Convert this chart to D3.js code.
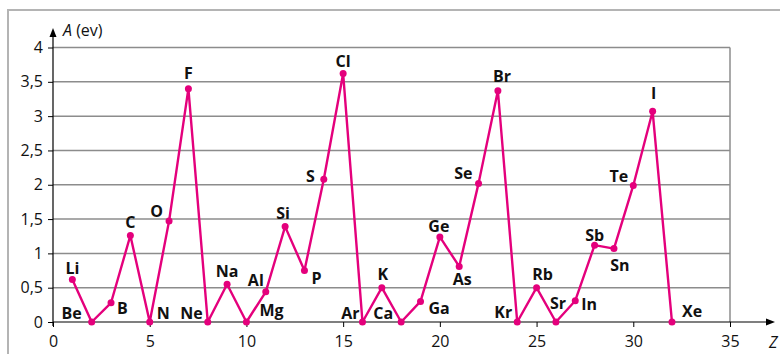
<!DOCTYPE html>
<html>
<head>
<meta charset="utf-8">
<script src="https://cdn.jsdelivr.net/npm/d3@7"></script>
<style>
  body { margin: 0; background: #fff; }
  svg { display: block; font-family: "Open Sans", sans-serif; }
</style>
</head>
<body>
<svg id="chart"></svg>
<script>
// electron affinity, elements in order along Z
const elements = ["Li", "Be", "B", "C", "N", "O", "F", "Ne", "Na", "Mg", "Al", "Si", "P", "S", "Cl", "Ar",
  "K", "Ca", "Ga", "Ge", "As", "Se", "Br", "Kr", "Rb", "Sr", "In", "Sb", "Sn", "Te", "I", "Xe"];
const zValues = d3.range(1, 33);
const affinity = [0.62, 0, 0.28, 1.26, 0, 1.47, 3.40, 0, 0.55, 0, 0.44, 1.39, 0.75, 2.08, 3.62, 0,
  0.50, 0, 0.30, 1.24, 0.81, 2.02, 3.37, 0, 0.50, 0, 0.31, 1.12, 1.07, 1.99, 3.07, 0];
const xTicks = [0, 5, 10, 15, 20, 25, 30, 35];
const yTicks = [0, 0.5, 1, 1.5, 2, 2.5, 3, 3.5, 4];

// label placement: [anchor, dx, dy] relative to the point
const labelPlace = [
  ["middle", 0, -5], ["end", -10, -3], ["start", 6, 11], ["middle", 0, -8], ["start", 7, -3],
  ["end", -6, -4], ["middle", 0, -10], ["end", -5, -3], ["middle", 0, -7], ["start", 13, -6],
  ["end", -2, -6], ["middle", -2, -8], ["start", 7, 13], ["end", -9, 3], ["middle", 0, -7],
  ["end", -3, -3], ["middle", 1, -8], ["end", -8, -3], ["start", 8, 13], ["middle", -1, -5],
  ["middle", 3, 19], ["end", -6, -4], ["middle", 4, -9], ["end", -5, -4], ["middle", 6, -8],
  ["middle", 2, -13], ["start", 6, 9], ["middle", 0, -4], ["middle", 6, 22], ["end", -5, -3],
  ["middle", 1, -12], ["start", 10, -5]
];

const W = 780, H = 354;
const margin = { top: 47.5, left: 53, right: 50, bottom: 32 };
const width = W - margin.left - margin.right;
const height = H - margin.top - margin.bottom;
const fs = 16;

const root = d3.select("#chart").attr("width", W).attr("height", H);

// outer frame (left and top only)
root.append("path")
  .attr("d", `M8,${H} L8,10 L${W},10`)
  .attr("fill", "none")
  .attr("stroke", "#b4b4b4")
  .attr("stroke-width", 2);

const svg = root.append("g")
  .attr("transform", `translate(${margin.left},${margin.top})`);

const x = d3.scaleLinear().domain([0, 35]).range([0, width]);
const y = d3.scaleLinear().domain([0, 4]).range([height, 0]);

// grid
svg.append("g")
  .selectAll("line")
  .data(yTicks.filter(d => d > 0))
  .join("line")
  .attr("x1", 0).attr("x2", x(35))
  .attr("y1", d => y(d)).attr("y2", d => y(d))
  .attr("stroke", "#8c8c8c").attr("stroke-width", 1.5);

svg.append("line")
  .attr("x1", x(35)).attr("x2", x(35))
  .attr("y1", y(0)).attr("y2", y(4))
  .attr("stroke", "#8c8c8c").attr("stroke-width", 1.5);

// axes
const xAxis = svg.append("g")
  .attr("transform", `translate(0,${height})`)
  .call(d3.axisBottom(x).tickValues(xTicks).tickSize(5).tickSizeOuter(0).tickFormat(d3.format("d")));
xAxis.select(".domain").remove();
xAxis.selectAll("text").attr("font-size", fs).attr("fill", "#111").attr("dy", "1.05em").attr("font-family", "Open Sans");

const yAxis = svg.append("g")
  .call(d3.axisLeft(y).tickValues(yTicks).tickSize(5).tickSizeOuter(0)
    .tickFormat(d => String(d).replace(".", ",")));
yAxis.select(".domain").remove();
yAxis.selectAll("text").attr("font-size", fs).attr("fill", "#111").attr("x", -10).attr("font-family", "Open Sans");

// axis lines with arrows
svg.append("line")
  .attr("x1", 0).attr("x2", W - margin.left - 8)
  .attr("y1", height).attr("y2", height)
  .attr("stroke", "#000").attr("stroke-width", 1.2);
svg.append("path")
  .attr("d", `M${W - margin.left - 5},${height} l-9,-3.5 l0,7 Z`)
  .attr("fill", "#000");

svg.append("line")
  .attr("x1", 0).attr("x2", 0)
  .attr("y1", height + 4).attr("y2", -margin.top + 34)
  .attr("stroke", "#000").attr("stroke-width", 1.2);
svg.append("path")
  .attr("d", `M0,${-margin.top + 28} l-3.5,9 l7,0 Z`)
  .attr("fill", "#000");

// axis titles
const yTitle = root.append("text")
  .attr("x", 63).attr("y", 36)
  .attr("font-size", fs).attr("fill", "#111");
yTitle.append("tspan").attr("font-style", "italic").text("A");
yTitle.append("tspan").text(" (ev)");

root.append("text")
  .attr("x", 769).attr("y", 348)
  .attr("font-size", fs).attr("font-style", "italic").attr("fill", "#111")
  .text("Z");

// series
const pts = zValues.map((z, i) => ({ z, v: affinity[i], name: elements[i], place: labelPlace[i] }));

svg.append("path")
  .datum(pts)
  .attr("fill", "none")
  .attr("stroke", "#e4007c")
  .attr("stroke-width", 2.4)
  .attr("stroke-linejoin", "round")
  .attr("d", d3.line().x(d => x(d.z)).y(d => y(d.v)));

svg.selectAll("circle.dot")
  .data(pts)
  .join("circle")
  .attr("class", "dot")
  .attr("cx", d => x(d.z))
  .attr("cy", d => y(d.v))
  .attr("r", 3.5)
  .attr("fill", "#e4007c");

svg.selectAll("text.lbl")
  .data(pts)
  .join("text")
  .attr("class", "lbl")
  .attr("x", d => x(d.z) + d.place[1])
  .attr("y", d => y(d.v) + d.place[2])
  .attr("text-anchor", d => d.place[0])
  .attr("font-size", fs)
  .attr("font-weight", "bold")
  .attr("fill", "#111")
  .text(d => d.name);
</script>
</body>
</html>
